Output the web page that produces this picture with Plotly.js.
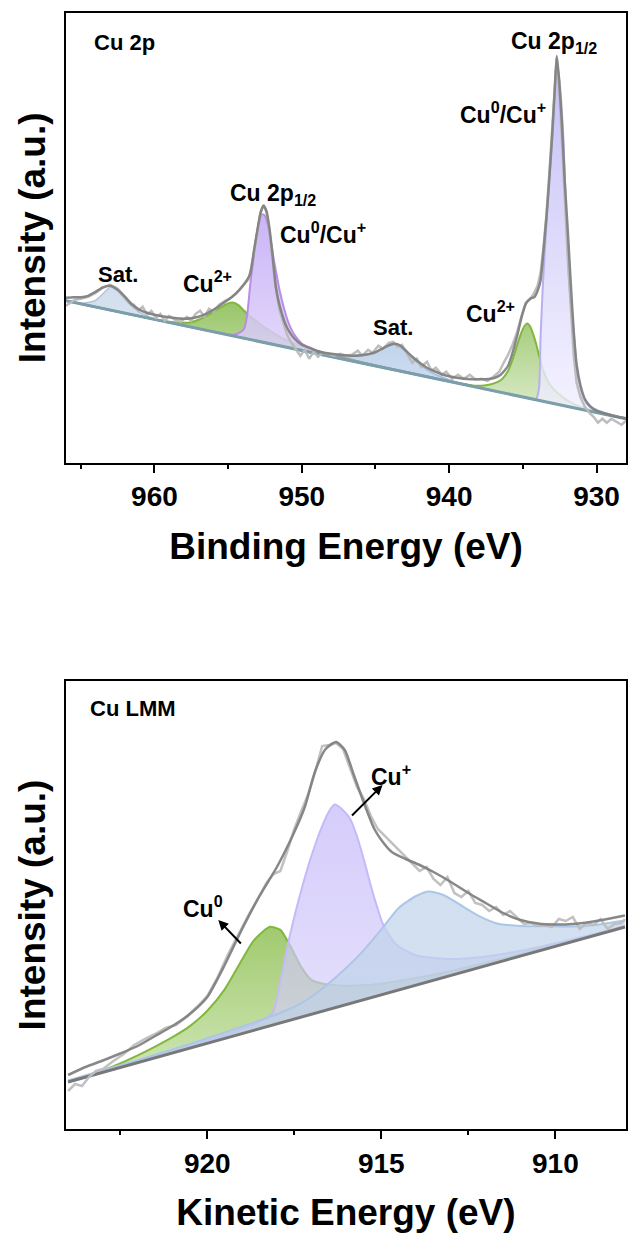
<!DOCTYPE html>
<html>
<head>
<meta charset="utf-8">
<script src="https://cdn.plot.ly/plotly-3.0.1.min.js"></script>
<style>html,body{margin:0;padding:0;background:#fff;}#chart{width:628px;height:1234px;}</style>
</head>
<body>
<div id="chart"></div>
<script>
// ---------------- Cu 2p (binding energy, eV) ----------------
const cu2pTicks = [960, 950, 940, 930];
const cu2pBaseE = [966, 928];
const cu2pBaseY = [162, 44];

const sat1E = [966, 965, 964.5, 964, 963.5, 963, 962.5, 962, 961.5, 961, 960, 958, 928];
const sat1Y = [162, 159.5, 160.3, 162.3, 169, 175.7, 172, 163.6, 156, 150.5, 143.9, 137.2, 44];

const sat2E = [966, 950, 948, 947, 946.5, 946, 945.5, 945, 944.5, 944, 943.7, 943.3, 943, 942.5, 942, 941.5, 941, 940.5, 940, 939, 937, 928];
const sat2Y = [162, 112.3, 107.1, 106, 106.4, 106.9, 108.3, 110.8, 114.2, 117.7, 118.5, 115.5, 111.5, 105, 98.4, 92.9, 88.8, 85.8, 83.1, 78.9, 71.9, 44];

const cu2aE = [966, 960, 958.5, 958, 957.5, 957, 956.5, 956, 955.5, 955, 954.7, 954.3, 954, 953.5, 953, 952.5, 952, 951.5, 951, 950, 949, 948, 946, 944, 928];
const cu2aY = [162, 143.4, 140.3, 140, 140.6, 143.1, 146.5, 151, 155.4, 159.4, 160.3, 157.7, 153.3, 146.2, 140.6, 135.1, 130.5, 126, 122.4, 116.5, 112, 107.9, 100.7, 94, 44];

const cu2bE = [966, 940, 939, 938.3, 937.5, 937, 936.5, 936, 935.7, 935.4, 935.1, 934.9, 934.7, 934.5, 934.3, 934.1, 933.9, 933.6, 933.3, 932.9, 932.5, 932, 931.5, 931, 930, 928];
const cu2bY = [162, 81.3, 78.6, 77.1, 77.6, 79.1, 82.5, 92, 103, 117.1, 130.1, 136.5, 139.3, 136.2, 128.6, 119, 107.3, 91.4, 81.5, 73.3, 68, 62.5, 58.4, 55.5, 51.2, 44];

const p12E = [966, 956, 955, 954.5, 954.2, 953.9, 953.7, 953.5, 953.3, 953.1, 952.9, 952.7, 952.5, 952.3, 952.1, 951.9, 951.7, 951.5, 951.2, 950.9, 950.5, 950, 949.5, 949, 948, 946, 928];
const p12Y = [162, 131, 128.4, 128.3, 130.4, 134.4, 148.8, 178, 202.6, 225, 241.3, 248.7, 247, 237.5, 222, 203.2, 187.6, 172, 154, 140, 127.9, 119.3, 115.3, 112.2, 107.6, 100.5, 44];

const p32E = [966, 936, 934.5, 934.1, 933.9, 933.8, 933.65, 933.47, 933.25, 933.02, 932.85, 932.68, 932.5, 932.24, 932.0, 931.8, 931.55, 931.32, 931.0, 930.64, 930.2, 929.5, 928];
const p32Y = [162, 68.8, 64.5, 64, 75, 125, 175, 222, 275, 322, 365, 397, 380, 322, 222, 170, 132, 92, 70, 58.7, 54, 50, 44];

const cu2pFitE = [966, 965.5, 965, 964.5, 964, 963.5, 963, 962.5, 962, 961.5, 961, 960.5, 960, 959.5, 959, 958.5, 958, 957.5, 957, 956.5, 956, 955.5, 955, 954.5, 954, 953.5, 953.25, 953, 952.8, 952.6, 952.4, 952.2, 952, 951.75, 951.5, 951, 950.5, 950, 949.5, 949, 948.5, 948, 947.5, 947, 946.5, 946, 945.5, 945, 944.5, 944, 943.7, 943.3, 943, 942.5, 942, 941.5, 941, 940.5, 940, 939.5, 939, 938.5, 938, 937.5, 937, 936.5, 936, 935.7, 935.4, 935.1, 934.8, 934.5, 934.2, 934, 933.8, 933.6, 933.4, 933.2, 933, 932.85, 932.7, 932.55, 932.35, 932.15, 931.95, 931.75, 931.55, 931.35, 931.1, 930.8, 930.4, 930, 929.5, 929, 928.5, 928];
const cu2pFitY = [165, 165.5, 165.5, 167, 171, 175.5, 177, 173, 166, 158, 153, 150, 148, 146.5, 145.5, 144.5, 144, 144.5, 146, 149, 153, 158, 163, 169, 177, 189, 212, 234, 250, 257, 252, 235, 210, 175, 157, 135, 124, 118, 115, 112, 110, 109, 108, 107.5, 107, 107.5, 108.5, 110.5, 114.5, 118, 119, 117, 113, 106, 100, 95, 91.5, 88.5, 86.5, 85, 84, 83.5, 83.5, 83.5, 84.5, 88, 97, 110, 126, 145, 159, 164, 166, 172, 182, 212, 245, 285, 330, 370, 407, 385, 340, 280, 232, 180, 132, 98, 78, 64, 56, 52, 49.5, 47.5, 45.7, 44.5];

const cu2pRawE = [966, 965.7, 965.4, 965, 964.5, 964, 963.5, 963, 962.5, 962, 961.7, 961.4, 961.1, 960.8, 960.5, 960.2, 959.9, 959.6, 959.3, 959, 958.6, 958.2, 957.8, 957.5, 957.2, 956.9, 956.6, 956.3, 956, 955.6, 955.2, 954.8, 954.4, 954, 953.6, 953.3, 953, 952.8, 952.6, 952.4, 952.2, 952, 951.8, 951.5, 951.2, 951, 950.7, 950.4, 950.1, 949.8, 949.5, 949.2, 948.9, 948.6, 948.2, 947.8, 947.4, 947, 946.6, 946.2, 945.9, 945.5, 945.2, 944.8, 944.5, 944.1, 943.8, 943.5, 943.2, 942.9, 942.5, 942.2, 941.9, 941.5, 941.2, 940.9, 940.5, 940.2, 939.8, 939.4, 939, 938.6, 938.2, 937.8, 937.4, 937, 936.6, 936.3, 936, 935.7, 935.4, 935.1, 934.8, 934.5, 934.3, 934, 933.8, 933.6, 933.4, 933.2, 933, 932.85, 932.7, 932.55, 932.35, 932.15, 931.95, 931.75, 931.55, 931.35, 931.1, 930.8, 930.5, 930.2, 929.9, 929.6, 929.3, 929, 928.6, 928.3, 928];
const cu2pRawY = [157, 160, 163, 164, 166, 170, 175, 178, 174, 166, 160, 158, 152, 156, 148, 152, 145, 149, 142, 147, 143, 141, 146, 142, 149, 152, 146, 154, 151, 158, 162, 165, 170, 177, 184, 205, 233, 250, 258, 251, 233, 207, 178, 152, 138, 128, 120, 113, 107, 113, 104, 111, 106, 110, 109, 107, 109, 107, 108, 112, 107, 113, 110, 117, 114, 120, 121, 116, 118, 110, 100, 104, 96, 101, 92, 95, 88, 91, 84, 88, 84, 88, 83, 84, 82, 86, 91, 100, 108, 118, 130, 146, 160, 164, 168, 177, 190, 215, 248, 290, 335, 375, 405, 382, 330, 265, 205, 150, 108, 80, 66, 56, 50, 46, 40, 44, 40, 44, 41, 38, 42];

// ---------------- Cu LMM (kinetic energy, eV) ----------------
const lmmTicks = [920, 915, 910];
const lmmBaseE = [924, 908];
const lmmBaseY = [47, 202];

const cu0E = [924, 923.5, 923, 922.5, 922, 921.5, 921, 920.5, 920, 919.5, 919, 918.7, 918.4, 918.2, 917.9, 917.6, 917.3, 917, 916.6, 916.2, 915.7, 915, 914, 913, 912, 911, 910, 909, 908];
const cu0Y = [47, 52.8, 58.9, 65.7, 73.6, 82.4, 91.9, 102.9, 118.3, 139.6, 169.5, 186.9, 197.5, 202.2, 199.1, 182, 161.9, 148.8, 144.7, 143.6, 143.4, 145.2, 150.9, 158.1, 166.3, 175, 184, 193.2, 202.5];

const cu1E = [924, 922, 920, 919, 918.5, 918.12, 917.89, 917.66, 917.43, 917.08, 916.74, 916.5, 916.34, 916.1, 915.89, 915.7, 915.51, 915.22, 914.93, 914.55, 913.97, 913.11, 912.16, 910.72, 908.8, 908];
const cu1Y = [47, 67.4, 88.3, 100, 107.4, 116.1, 149.3, 188.6, 221.8, 265.2, 299.5, 317.8, 324.4, 318.7, 309.7, 292.6, 270.4, 233.2, 203, 183.7, 173.3, 170.1, 171.8, 180.1, 195.7, 203];

const lmmBroadE = [924, 923, 922, 921, 920, 919, 918, 917.3, 916.74, 916.17, 915.59, 915.01, 914.5, 914.0, 913.64, 913.2, 912.64, 912.16, 911.68, 911, 910.3, 909.5, 908.8, 908];
const lmmBroadY = [48.5, 58.7, 68.9, 79.6, 90.8, 102.5, 114.7, 125.9, 139, 155.9, 175.6, 199.2, 221.1, 233, 237.5, 233.8, 222.2, 212.3, 205.5, 203, 202.8, 202.5, 204.3, 208.5];

const lmmFitE = [924, 923.5, 923, 922.5, 922, 921.5, 921, 920.5, 920, 919.5, 919, 918.5, 918, 917.5, 917.2, 916.9, 916.6, 916.3, 916.05, 915.8, 915.5, 915.2, 915, 914.7, 914.3, 913.9, 913.5, 913, 912.5, 912, 911.5, 911, 910.5, 910, 909.5, 909, 908.5, 908];
const lmmFitY = [54, 62, 68.5, 75.5, 83, 93, 103, 115, 132, 164, 200, 233, 262, 297, 322, 358, 380, 387, 379, 355, 326, 300, 289, 277, 270, 264, 257, 247, 236, 226, 216, 209, 205.5, 204.5, 205, 207, 210, 213.5];

const lmmRawE = [924, 923.8, 923.6, 923.4, 923.2, 923, 922.7, 922.4, 922.1, 921.8, 921.5, 921.2, 920.9, 920.6, 920.3, 920, 919.7, 919.4, 919.1, 918.8, 918.5, 918.3, 918.1, 917.9, 917.7, 917.5, 917.3, 917.1, 916.9, 916.7, 916.5, 916.3, 916.1, 915.9, 915.7, 915.5, 915.3, 915.1, 914.9, 914.7, 914.5, 914.3, 914.1, 913.9, 913.7, 913.5, 913.3, 913.1, 912.9, 912.7, 912.5, 912.3, 912.1, 911.9, 911.7, 911.5, 911.3, 911.1, 910.9, 910.7, 910.5, 910.3, 910.1, 909.9, 909.7, 909.5, 909.3, 909.1, 908.9, 908.7, 908.5, 908.3, 908.1, 908];
const lmmRawY = [38, 45, 43, 52, 58, 60, 68, 75, 84, 90, 95, 101, 104, 112, 122, 133, 152, 175, 195, 215, 233, 246, 255, 258, 278, 300, 318, 335, 357, 383, 384, 386, 380, 360, 342, 330, 313, 300, 293, 287, 280, 272, 266, 258, 262, 250, 244, 252, 236, 232, 238, 226, 224, 218, 222, 214, 218, 211, 205, 206, 203, 204, 202, 210, 208, 212, 200, 206, 204, 210, 200, 205, 206, 210];

// ---------------- helpers ----------------
const FONT = 'Liberation Sans, Arial, sans-serif';
const traces = [];
function base(xa, ya, e, y) {
  return {x: e, y: y, xaxis: xa, yaxis: ya, mode: 'lines', line: {width: 0, color: 'rgba(0,0,0,0)'}, hoverinfo: 'skip', showlegend: false};
}
function comp(xa, ya, be, by, e, y, lineCol, bottomCol, topCol, w) {
  traces.push(base(xa, ya, be, by));
  traces.push({x: e, y: y, xaxis: xa, yaxis: ya, mode: 'lines', fill: 'tonexty',
    fillgradient: {type: 'vertical', colorscale: [[0, bottomCol], [1, topCol]]},
    line: {color: lineCol, width: w || 2, shape: 'spline', smoothing: 0.6}, showlegend: false});
}
function line(xa, ya, e, y, col, w, spline) {
  traces.push({x: e, y: y, xaxis: xa, yaxis: ya, mode: 'lines',
    line: {color: col, width: w, shape: spline ? 'spline' : 'linear', smoothing: 0.6}, showlegend: false});
}

// top panel
comp('x', 'y', cu2pBaseE, cu2pBaseY, sat1E, sat1Y, 'rgb(178,196,218)', 'rgba(226,234,244,0.8)', 'rgba(205,218,236,0.9)', 1.5);
comp('x', 'y', cu2pBaseE, cu2pBaseY, sat2E, sat2Y, 'rgb(160,190,225)', 'rgba(208,222,240,0.85)', 'rgba(170,198,228,0.9)', 1.5);
comp('x', 'y', cu2pBaseE, cu2pBaseY, cu2aE, cu2aY, 'rgb(128,184,62)', 'rgba(210,230,190,0.8)', 'rgba(140,190,85,0.9)', 2);
comp('x', 'y', cu2pBaseE, cu2pBaseY, p12E, p12Y, 'rgb(186,140,232)', 'rgba(232,224,252,0.8)', 'rgba(196,172,246,0.9)', 2);
comp('x', 'y', cu2pBaseE, cu2pBaseY, cu2bE, cu2bY, 'rgb(128,184,62)', 'rgba(215,232,196,0.8)', 'rgba(140,190,85,0.9)', 2);
comp('x', 'y', cu2pBaseE, cu2pBaseY, p32E, p32Y, 'rgb(182,176,240)', 'rgba(242,240,255,0.8)', 'rgba(190,184,246,0.9)', 2);
line('x', 'y', cu2pBaseE, cu2pBaseY, 'rgb(122,158,170)', 3, false);
line('x', 'y', cu2pRawE, cu2pRawY, 'rgba(185,185,185,0.95)', 2.5, false);
line('x', 'y', cu2pFitE, cu2pFitY, 'rgba(130,130,130,0.95)', 2.5, true);

// bottom panel
comp('x2', 'y2', lmmBaseE, lmmBaseY, cu0E, cu0Y, 'rgb(128,184,62)', 'rgba(200,226,170,0.85)', 'rgba(150,196,95,0.9)', 2);
comp('x2', 'y2', lmmBaseE, lmmBaseY, cu1E, cu1Y, 'rgb(196,186,250)', 'rgba(215,208,250,0.6)', 'rgba(200,188,250,0.75)', 2);
comp('x2', 'y2', lmmBaseE, lmmBaseY, lmmBroadE, lmmBroadY, 'rgb(170,198,232)', 'rgba(185,205,230,0.6)', 'rgba(195,213,235,0.75)', 2);
line('x2', 'y2', lmmBaseE, lmmBaseY, 'rgb(120,120,120)', 3, false);
line('x2', 'y2', lmmRawE, lmmRawY, 'rgba(190,190,190,0.95)', 2.5, false);
line('x2', 'y2', lmmFitE, lmmFitY, 'rgba(130,130,130,0.95)', 2.5, true);

// pixel -> paper helpers for labels
const L = 66, R = 626, T = 13, B = 1129;
const PX = p => (p - L) / (R - L);
const PY = p => (B - p) / (B - T);

function xax(range, dtick, minor, title, anchor) {
  return {range: range, autorange: false, dtick: dtick, tick0: 0, ticks: 'outside', ticklen: 8, tickwidth: 2, tickcolor: '#000',
    minor: {dtick: minor, tick0: 0, ticks: 'outside', ticklen: 4, tickwidth: 2, tickcolor: '#000'},
    showline: true, mirror: true, linewidth: 2, linecolor: '#000', showgrid: false, zeroline: false,
    tickfont: {family: FONT, size: 28, color: '#000', weight: 'bold'},
    title: {text: title, font: {family: FONT, size: 37, color: '#000', weight: 'bold'}, standoff: 22},
    anchor: anchor, domain: [0, 1]};
}
function yax(range, domain, anchor) {
  return {range: range, autorange: false, showticklabels: false, ticks: '', showline: true, mirror: true, linewidth: 2, linecolor: '#000',
    showgrid: false, zeroline: false, domain: domain, anchor: anchor,
    title: {text: 'Intensity (a.u.)', font: {family: FONT, size: 37, color: '#000', weight: 'bold'}, standoff: 7}};
}

const lab = (px, py, text, size, xanchor) => ({xref: 'paper', yref: 'paper', x: PX(px), y: PY(py), text: text, showarrow: false,
  xanchor: xanchor || 'center', yanchor: 'middle', font: {family: FONT, size: size || 22, color: '#000', weight: 'bold'}});

const annotations = [
  lab(92, 43, 'Cu 2p', 22, 'left'),
  lab(554, 42, 'Cu 2p<sub>1/2</sub>', 23),
  lab(503, 113, 'Cu<sup>0</sup>/Cu<sup>+</sup>', 23),
  lab(273, 194, 'Cu 2p<sub>1/2</sub>', 23),
  lab(323, 233, 'Cu<sup>0</sup>/Cu<sup>+</sup>', 23),
  lab(118, 274, 'Sat.', 22),
  lab(207, 282, 'Cu<sup>2+</sup>', 23),
  lab(393, 327, 'Sat.', 22),
  lab(490, 312, 'Cu<sup>2+</sup>', 23),
  lab(88, 708, 'Cu LMM', 22, 'left'),
  lab(391, 775, 'Cu<sup>+</sup>', 23),
  lab(203, 907, 'Cu<sup>0</sup>', 23),
  {xref: 'paper', yref: 'paper', x: PX(382.5), y: PY(785), ax: -32, ay: 32, text: '', showarrow: true, arrowhead: 2, arrowsize: 1, arrowwidth: 2, arrowcolor: '#000'},
  {xref: 'paper', yref: 'paper', x: PX(218.3), y: PY(920), ax: 24, ay: 25, text: '', showarrow: true, arrowhead: 2, arrowsize: 1, arrowwidth: 2, arrowcolor: '#000'}
];

const layout = {
  width: 628, height: 1234,
  margin: {l: L, r: 628 - R, t: T, b: 1234 - B},
  paper_bgcolor: '#fff', plot_bgcolor: '#fff',
  showlegend: false,
  xaxis: xax([966, 928], 10, 5, 'Binding Energy (eV)', 'y'),
  yaxis: yax([0, 450], [PY(462.7), 1], 'x'),
  xaxis2: xax([924.06, 907.97], 5, 2.5, 'Kinetic Energy (eV)', 'y2'),
  yaxis2: yax([0, 448], [0, PY(681)], 'x2'),
  annotations: annotations
};

Plotly.newPlot('chart', traces, layout, {displayModeBar: false});
</script>
</body>
</html>
